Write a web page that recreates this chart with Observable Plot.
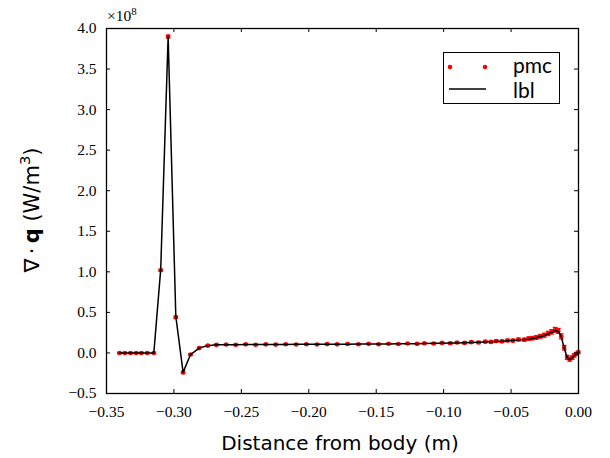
<!DOCTYPE html>
<html><head><meta charset="utf-8">
<script src="https://cdn.jsdelivr.net/npm/d3@7"></script>
<script src="https://cdn.jsdelivr.net/npm/@observablehq/plot@0.6"></script>
<style>
body{margin:0;background:#fff;}
#wrap{position:relative;width:610px;height:458px;overflow:hidden;}
.ov{position:absolute;white-space:nowrap;color:#000;font-weight:400;line-height:1;}
.sans{font-family:"DejaVu Sans",sans-serif;}
.lato{font-family:Lato,"DejaVu Sans",sans-serif;}
.serif{font-family:"Liberation Serif",serif;}
sup{font-size:70%;vertical-align:0.55em;line-height:0;}
</style></head><body><div id="wrap"></div>
<script>
// Distance from body (m)
const distance = [
 -0.3404,-0.3364,-0.3322,-0.3280,-0.3241,-0.3198,-0.3149,
 -0.3098,-0.3043,-0.2986,-0.2932,-0.2877,-0.2813,-0.2749,-0.2685,
 -0.2613,-0.2542,-0.2468,-0.2394,-0.2319,-0.2245,-0.2171,-0.2094,-0.2018,-0.1939,
 -0.1864,-0.1790,-0.1712,-0.1632,-0.1556,-0.1482,-0.1408,-0.1336,-0.1267,-0.1197,
 -0.1143,-0.1074,-0.1012,-0.0951,-0.0901,-0.0845,-0.0795,-0.0741,-0.0691,-0.0649,
 -0.0610,-0.0568,-0.0526,-0.0486,-0.0445,-0.0402,-0.0370,
 -0.0343,-0.0313,-0.0284,-0.0254,-0.0225,-0.0199,-0.0173,-0.0150,-0.0128,-0.0106,
 -0.0084,-0.0065,-0.0047,-0.0032,-0.0017,-0.0002
];
// lbl: div q (x 1e8 W/m^3)
const lbl = [
 0,0,0,0,0,0,0,
 1.03,3.90,0.45,-0.24,-0.02,0.06,0.09,0.10,
 0.100,0.102,0.103,0.104,0.104,0.105,0.105,0.106,0.106,0.107,
 0.107,0.108,0.108,0.109,0.110,0.110,0.111,0.112,0.113,0.114,
 0.116,0.118,0.120,0.122,0.124,0.126,0.128,0.131,0.134,0.138,
 0.141,0.145,0.149,0.154,0.159,0.165,0.170,
 0.177,0.187,0.199,0.214,0.232,0.254,0.276,0.265,0.200,0.060,
 -0.060,-0.080,-0.060,-0.035,-0.015,0.005
];
// pmc: div q (x 1e8 W/m^3)
const pmc = [
 0,0,0,0,0,0,0,
 1.02,3.90,0.44,-0.24,-0.02,0.06,0.09,0.10,
 0.104,0.100,0.106,0.101,0.106,0.103,0.107,0.104,0.108,0.105,
 0.109,0.106,0.110,0.107,0.112,0.108,0.113,0.110,0.116,0.112,
 0.119,0.116,0.124,0.120,0.128,0.124,0.133,0.129,0.139,0.136,
 0.146,0.143,0.154,0.152,0.165,0.163,0.176,
 0.182,0.190,0.205,0.218,0.240,0.260,0.285,0.272,0.205,0.065,
 -0.055,-0.078,-0.058,-0.030,-0.012,0.008
];
// pmc error (x 1e8)
const pmcErr = [
 0.008,0.008,0.008,0.008,0.008,0.008,0.008,
 0.012,0.018,0.014,0.014,0.010,0.010,0.010,0.010,
 0.008,0.008,0.008,0.008,0.008,0.008,0.008,0.008,0.008,0.008,
 0.008,0.008,0.008,0.008,0.008,0.008,0.008,0.008,0.009,0.009,
 0.009,0.010,0.010,0.011,0.011,0.012,0.012,0.013,0.013,0.014,
 0.015,0.015,0.016,0.017,0.018,0.019,0.020,
 0.021,0.022,0.023,0.025,0.026,0.028,0.030,0.030,0.030,0.028,
 0.026,0.024,0.022,0.020,0.018,0.016
];
const xTicks = [-0.35,-0.30,-0.25,-0.20,-0.15,-0.10,-0.05,0.00];
const yTicks = [-0.5,0.0,0.5,1.0,1.5,2.0,2.5,3.0,3.5,4.0];
const xLabel = "Distance from body (m)";
const legendLabels = ["pmc","lbl"];

const W = 610, H = 458, mL = 106, mR = 32, mT = 28, mB = 65;
const pw = W - mL - mR, ph = H - mT - mB, tk = 4;

const pts = distance.map((x,i)=>({x, y:pmc[i], lo:pmc[i]-pmcErr[i], hi:pmc[i]+pmcErr[i], l:lbl[i]}));
const cap = {draw(ctx,size){const r=Math.sqrt(size/Math.PI);ctx.moveTo(-r,0);ctx.lineTo(r,0);}};

const chart = Plot.plot({
  width:W, height:H,
  marginLeft:mL, marginRight:mR, marginTop:mT, marginBottom:mB,
  x:{domain:[-0.35,0]},
  y:{domain:[-0.5,4.0]},
  style:{fontFamily:"'Liberation Serif', serif", fontSize:"15.5px", color:"#000", background:"#fff", overflow:"visible"},
  marks:[
    Plot.ruleX(pts,{x:"x", y1:"lo", y2:"hi", stroke:"red", strokeWidth:1.2}),
    Plot.dot(pts,{x:"x", y:"lo", symbol:cap, r:2.4, stroke:"red", strokeWidth:1.2}),
    Plot.dot(pts,{x:"x", y:"hi", symbol:cap, r:2.4, stroke:"red", strokeWidth:1.2}),
    Plot.dot(pts,{x:"x", y:"y", r:2.3, fill:"red", stroke:"none"}),
    Plot.line(pts,{x:"x", y:"l", stroke:"black", strokeWidth:1.5}),
    // inward ticks on all four sides
    Plot.tickX(xTicks,{x:d=>d, insetTop:ph-tk, stroke:"black", strokeWidth:1}),
    Plot.tickX(xTicks,{x:d=>d, insetBottom:ph-tk, stroke:"black", strokeWidth:1}),
    Plot.tickY(yTicks,{y:d=>d, insetRight:pw-tk, stroke:"black", strokeWidth:1}),
    Plot.tickY(yTicks,{y:d=>d, insetLeft:pw-tk, stroke:"black", strokeWidth:1}),
    Plot.axisX(xTicks,{anchor:"bottom", tickSize:0, tickPadding:12, tickFormat:d3.format(".2f"), label:null}),
    Plot.axisY(yTicks,{anchor:"left", tickSize:0, tickPadding:10, tickFormat:d3.format(".1f"), label:null}),
    Plot.frame({stroke:"black", strokeWidth:1.3})
  ]
});
const wrap = document.getElementById("wrap");
wrap.appendChild(chart);

function ov(html, css, cls){const d=document.createElement("div");d.className="ov "+cls;d.innerHTML=html;Object.assign(d.style,css);wrap.appendChild(d);return d;}
// x10^8 multiplier
ov("×10<sup>8</sup>",{left:"107px",top:"8px",fontSize:"15.5px"},"serif");
// x label
ov(xLabel,{left:"340px",top:"433px",fontSize:"20px",transform:"translateX(-50%)"},"sans");
// y label
ov("∇\u2009·\u2009<b>q</b> (W/m<sup>3</sup>)",{left:"32px",top:"210px",fontSize:"21px",transform:"translate(-50%,-50%) rotate(-90deg)"},"sans");
// legend
const lg = ov("",{left:"443px",top:"52px",width:"115px",height:"50px",border:"1.2px solid #000",background:"#fff"},"lato");
lg.innerHTML = `<svg width="115" height="50" style="position:absolute;left:0;top:0">
<circle cx="6" cy="14" r="2.3" fill="red"/><circle cx="41" cy="14" r="2.3" fill="red"/>
<line x1="5" x2="42" y1="36" y2="36" stroke="#000" stroke-width="1.5"/></svg>
<div style="position:absolute;left:69px;top:1px;font-size:21px;line-height:21px;">${legendLabels[0]}</div>
<div style="position:absolute;left:69px;top:26px;font-size:21px;line-height:21px;">${legendLabels[1]}</div>`;
</script></body></html>
